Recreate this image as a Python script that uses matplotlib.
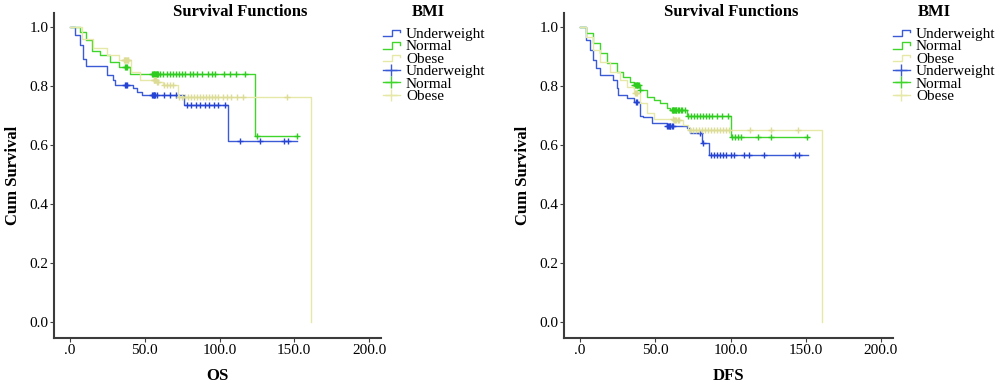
#!/usr/bin/env python3
"""Kaplan-Meier style survival curves (OS and DFS) by BMI group."""

import matplotlib
matplotlib.use("Agg")
import matplotlib.pyplot as plt
import numpy as np
from matplotlib.legend_handler import HandlerBase
from matplotlib.lines import Line2D

groups = ["Underweight", "Normal", "Obese"]
colors = {"Underweight": "#3a5ad6", "Normal": "#3fd52a", "Obese": "#e6e8a8"}
mark_colors = {"Underweight": "#2644d4", "Normal": "#2ecc1e", "Obese": "#dcdc96"}

# ---- OS: event times and survival after each step ----
os_under_t = [0, 3.3, 6.7, 8.7, 11, 25, 29, 30, 42, 45, 48, 76, 105.5]
os_under_s = [1.0, 0.973, 0.94, 0.89, 0.868, 0.837, 0.82, 0.803, 0.793, 0.78, 0.77, 0.736, 0.614]
os_under_c = [37, 37.5, 38, 55, 55.5, 56, 56.5, 57, 58, 63, 67, 71, 78, 81, 84, 87, 90, 93,
              96, 99, 104, 114, 127, 143, 146]

os_norm_t = [1, 6.7, 11, 14.5, 20, 27, 33, 40, 124]
os_norm_s = [1.0, 0.983, 0.956, 0.92, 0.905, 0.88, 0.865, 0.84, 0.63]
os_norm_c = [37, 37.5, 38, 55, 55.5, 56, 56.5, 57, 57.5, 58, 58.5, 59, 60, 62, 65, 67, 69,
             71, 73, 75, 77, 80, 82, 85, 88, 92, 95, 97, 103, 107, 111, 117, 125, 152]

os_obese_t = [0, 8, 15.6, 24.6, 33, 41, 47, 58, 62, 72, 161]
os_obese_s = [1.0, 0.96, 0.93, 0.905, 0.888, 0.848, 0.82, 0.815, 0.803, 0.764, 0.0]
os_obese_c = [36, 36.5, 37, 37.5, 38, 38.5, 39, 56, 56.5, 57, 57.5, 58, 59, 63, 65, 67,
              69, 73, 75, 77, 79, 81, 83, 85, 87, 89, 91, 93, 95, 97, 99, 102, 105, 108,
              112, 116, 145]

# ---- DFS ----
dfs_under_t = [0, 4.2, 6.5, 8.7, 10.9, 13.1, 22, 24.3, 25.4, 31, 35.5, 40, 42, 47.6, 57.6,
               71, 73, 81, 85.6]
dfs_under_s = [1.0, 0.956, 0.922, 0.888, 0.86, 0.837, 0.82, 0.792, 0.77, 0.758, 0.747,
               0.70, 0.695, 0.676, 0.664, 0.657, 0.64, 0.606, 0.566]
dfs_under_c = [37, 37.5, 58, 58.5, 59, 59.5, 60, 61, 62, 80, 82, 87, 89, 91, 93, 95, 97,
               100, 102, 109, 112, 122, 143, 145.6]

dfs_norm_t = [0, 4.2, 8.7, 13.1, 17.6, 24.3, 28.8, 33.2, 35.5, 40, 44.4, 48.9, 53.4,
              57.8, 60, 71, 100]
dfs_norm_s = [1.0, 0.979, 0.945, 0.911, 0.877, 0.849, 0.832, 0.815, 0.803, 0.786, 0.764,
              0.753, 0.741, 0.724, 0.719, 0.698, 0.628]
dfs_norm_c = [36, 36.5, 37, 37.5, 38, 38.5, 39, 40, 61, 61.5, 62, 62.5, 63, 63.5, 64, 65,
              66, 67, 68, 70, 72, 74, 76, 78, 80, 82, 84, 86, 88, 91, 94, 98, 101, 103, 105,
              107, 118, 127, 151]

dfs_obese_t = [0, 4.2, 8.7, 13.1, 19.8, 26.5, 31, 35.5, 40, 44.4, 48.9, 62.3, 68.7, 72, 161]
dfs_obese_s = [1.0, 0.967, 0.922, 0.883, 0.849, 0.82, 0.798, 0.775, 0.741, 0.707, 0.69,
               0.685, 0.668, 0.651, 0.0]
dfs_obese_c = [36.5, 37, 37.5, 62, 62.5, 63, 64, 65, 66, 73, 75, 77, 79, 81, 83, 85, 87,
               89, 91, 93, 95, 97, 99, 113, 127, 145]

panels = [
    ("OS", {"Underweight": (os_under_t, os_under_s, os_under_c),
            "Normal": (os_norm_t, os_norm_s, os_norm_c),
            "Obese": (os_obese_t, os_obese_s, os_obese_c)}, 152.0),
    ("DFS", {"Underweight": (dfs_under_t, dfs_under_s, dfs_under_c),
             "Normal": (dfs_norm_t, dfs_norm_s, dfs_norm_c),
             "Obese": (dfs_obese_t, dfs_obese_s, dfs_obese_c)}, 151.2),
]


def surv_at(times, surv, t):
    """Value of the step function at time t."""
    idx = np.searchsorted(np.asarray(times), t, side="right") - 1
    return np.asarray(surv)[np.clip(idx, 0, len(surv) - 1)]


class StepHandler(HandlerBase):
    """Little step glyph for the legend."""

    def create_artists(self, legend, orig_handle, xdescent, ydescent, width, height,
                       fontsize, trans):
        x0, x1 = -xdescent, -xdescent + width
        y0, y1 = -ydescent + 0.15 * height, -ydescent + 0.75 * height
        xm = x0 + 0.55 * width
        line = Line2D([x0, xm, xm, x1, x1], [y0, y0, y1, y1, y1 - 0.25 * height],
                      color=orig_handle.get_color(), lw=1.0, transform=trans)
        return [line]


FONT = "Liberation Serif"
plt.rcParams["font.family"] = [FONT, "DejaVu Serif"]

fig = plt.figure(figsize=(10, 3.86), dpi=100)
axes_pos = [[0.054, 0.124, 0.327, 0.842], [0.564, 0.124, 0.329, 0.842]]
title_x = [0.240, 0.731]
legend_x = [0.383, 0.893]
bmi_x = [0.428, 0.934]

for (xlabel, data, end_t), pos, tx, lx, bx in zip(panels, axes_pos, title_x, legend_x, bmi_x):
    ax = fig.add_axes(pos)
    step_handles, cens_handles = [], []
    for g in groups:
        t, s, c = data[g]
        last_t = max(end_t, max(c)) if s[-1] > 0 else t[-1]
        tt = list(t) + [last_t]
        ss = list(s) + [s[-1]]
        h, = ax.step(tt, ss, where="post", color=colors[g], lw=1.0)
        ax.plot(c, surv_at(t, s, c), linestyle="none", marker="+", ms=5, mew=1.0,
                color=mark_colors[g])
        step_handles.append(h)
        cens_handles.append(Line2D([], [], color=colors[g], marker="+", ms=8, lw=1.0))

    ax.set_xlim(-10.7, 208)
    ax.set_ylim(-0.054, 1.047)
    ax.set_xticks([0, 50, 100, 150, 200])
    ax.set_xticklabels([".0", "50.0", "100.0", "150.0", "200.0"])
    ax.set_yticks([0, 0.2, 0.4, 0.6, 0.8, 1.0])
    ax.set_yticklabels(["0.0", "0.2", "0.4", "0.6", "0.8", "1.0"])
    ax.tick_params(labelsize=11, length=3, width=0.8, color="#404040", pad=1)
    for side in ("top", "right"):
        ax.spines[side].set_visible(False)
    for side in ("left", "bottom"):
        ax.spines[side].set_color("#3c3c3c")
        ax.spines[side].set_linewidth(1.5)

    ax.set_xlabel(xlabel, fontsize=12, fontweight="bold", labelpad=8)
    ax.set_ylabel("Cum Survival", fontsize=12, fontweight="bold", labelpad=6)
    fig.text(tx, 0.969, "Survival Functions", fontsize=12, fontweight="bold",
             ha="center", va="center")
    fig.text(bx, 0.969, "BMI", fontsize=12, fontweight="bold", ha="center", va="center")

    fig.legend(step_handles + cens_handles, groups + groups,
               handler_map={h: StepHandler() for h in step_handles},
               loc="upper left", bbox_to_anchor=(lx, 0.93), frameon=False,
               fontsize=11, handlelength=1.1, handletextpad=0.4,
               labelspacing=-0.08, borderaxespad=0.0, borderpad=0.0)

fig.savefig("out.png", dpi=100)
